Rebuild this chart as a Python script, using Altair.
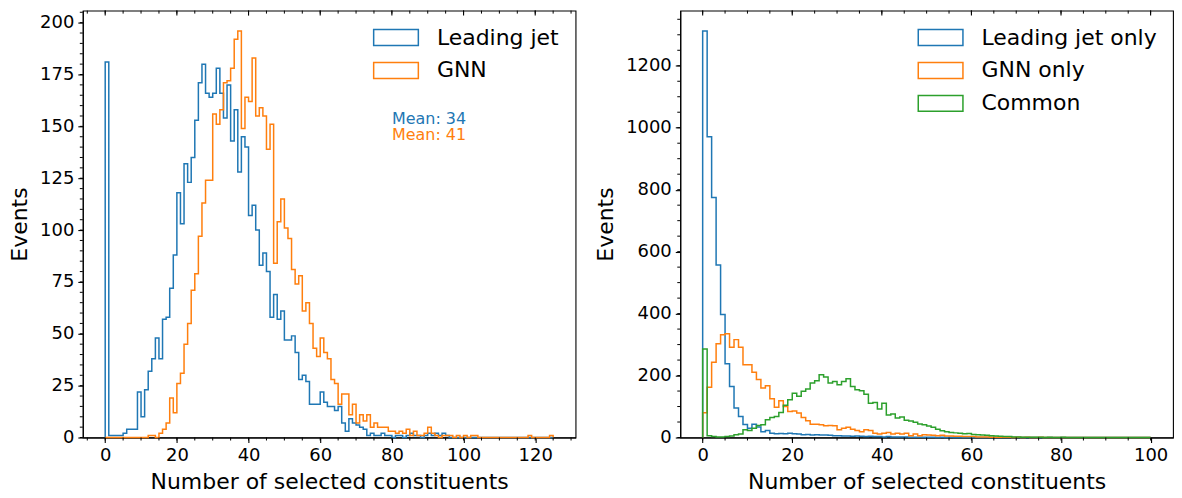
import altair as alt
import pandas as pd

# ---------------- data ----------------
left_series = ["Leading jet", "GNN"]
left_colors = ["#1f77b4", "#ff7f0e"]
left_bin_start = 0
right_series = ["Leading jet only", "GNN only", "Common"]
right_colors = ["#1f77b4", "#ff7f0e", "#2ca02c"]
right_bin_start = 0

# left panel, unit-width bins from 0 to 125
lead_counts = [181, 1, 1, 1, 1, 2, 4, 4, 4, 22,
               10, 23, 32, 38, 48, 38, 57, 58, 72, 88,
               118, 103, 132, 123, 135, 153, 171, 180, 166, 164,
               166, 178, 166, 154, 170, 143, 158, 128, 145, 140,
               107, 112, 100, 83, 89, 80, 58, 69, 57, 61,
               47, 47, 49, 41, 28, 30, 27, 16, 16, 16,
               22, 17, 15, 15, 13, 15, 7, 3, 9, 7,
               6, 5, 4, 1, 2, 1, 1, 2, 1, 1,
               0, 1, 1, 0, 1, 2, 1, 1, 0, 1,
               2, 1, 2, 1, 2, 1] + [0] * 29
gnn_counts = [0] * 12 + [1, 1, 0, 2, 4, 7, 19, 12,
              26, 31, 45, 55, 71, 79, 97, 113, 124, 124,
              156, 151, 158, 171, 172, 178, 192, 196, 149, 164,
              162, 183, 155, 159, 155, 139, 151, 84, 104, 115,
              101, 96, 81, 74, 78, 61, 65, 55, 43, 39,
              48, 41, 38, 28, 26, 16, 21, 21, 11, 16,
              7, 11, 8, 11, 5, 7, 5, 5, 5, 3,
              3, 2, 3, 2, 4, 1, 3, 1, 1, 2,
              5, 2, 1, 0, 1, 1, 1, 0, 1, 0,
              1, 0, 1, 1] + [0] * 14 + [1] + [0] * 5 + [1]

# right panel, unit-width bins from 0 to 100
lead_only = [1312, 971, 775, 557, 397, 238, 165, 95, 68, 42,
             30, 43, 34, 19, 23, 14, 12, 13, 12, 14,
             12, 11, 9, 10, 8, 9, 8, 8, 7, 6,
             6, 5, 5, 4, 5, 4, 3, 4, 3, 3,
             2, 3, 2, 2, 2, 2, 1, 1, 1, 1,
             1, 1, 0, 1, 0, 1] + [0] * 44
gnn_only = [80, 162, 243, 303, 332, 335, 291, 316, 291, 235,
            235, 211, 187, 160, 167, 125, 98, 119, 100, 84,
            86, 79, 65, 54, 43, 43, 41, 38, 39, 38,
            25, 30, 33, 27, 23, 19, 25, 23, 14, 11,
            14, 16, 11, 14, 11, 14, 6, 11, 6, 9,
            8, 7, 6, 7, 5, 5, 4, 4, 3, 3,
            3, 2, 2, 2, 1, 1, 1, 1, 1, 0,
            1, 0, 1, 0, 0, 1] + [0] * 24
common = [286, 6, 3, 2, 2, 3, 5, 9, 11, 25,
          23, 30, 39, 41, 57, 65, 68, 81, 104, 122,
          143, 133, 149, 157, 176, 183, 203, 195, 176, 181,
          170, 181, 190, 165, 154, 151, 140, 111, 113, 92,
          111, 73, 76, 63, 66, 56, 53, 49, 44, 41,
          37, 33, 27, 22, 19, 16, 15, 14, 12, 13,
          10, 9, 8, 7, 6, 5, 4, 3, 3, 2,
          2, 1, 1, 1, 1, 1, 0, 1, 0, 0,
          1] + [0] * 19

mean_labels = ["Mean: 34", "Mean: 41"]
x_title = "Number of selected constituents"
y_title = "Events"

left_x_domain = [-6.25, 131.25]
left_y_domain = [0, 205.8]
left_x_ticks = [0, 20, 40, 60, 80, 100, 120]
left_x_minor = list(range(-5, 131, 5))
left_y_ticks = [0, 25, 50, 75, 100, 125, 150, 175, 200]
left_y_minor = list(range(0, 206, 5))

right_x_domain = [-5, 105]
right_y_domain = [0, 1378]
right_x_ticks = [0, 20, 40, 60, 80, 100]
right_x_minor = list(range(0, 101, 5))
right_y_ticks = [0, 200, 400, 600, 800, 1000, 1200]
right_y_minor = list(range(0, 1376, 50))

W, H = 494, 428
FONT = "DejaVu Sans"
LEGEND_SHAPE = "M-2.8,-1H2.8V1H-2.8Z"


def step_frame(name, counts, start):
    xs, ys, ks = [start], [0], [0]
    k = 1
    for i, c in enumerate(counts):
        xs += [start + i, start + i + 1]
        ys += [c, c]
        ks += [k, k + 1]
        k += 2
    xs.append(start + len(counts))
    ys.append(0)
    ks.append(k)
    return pd.DataFrame({"x": xs, "y": ys, "k": ks, "series": name})


def panel(series, colors, count_lists, start, xdom, ydom, xt, xm, yt, ym, extra=None):
    xs = alt.Scale(domain=xdom, nice=False, zero=False)
    ys = alt.Scale(domain=ydom, nice=False, zero=False)
    cs = alt.Scale(domain=series, range=colors)
    layers = []
    for i, (name, counts) in enumerate(zip(series, count_lists)):
        df = step_frame(name, counts, start)
        legend = alt.Legend(
            title=None, orient="top-right", offset=16, padding=0,
            labelFontSize=22, labelFont=FONT, labelColor="black", labelLimit=400,
            symbolType=LEGEND_SHAPE, symbolSize=256, symbolStrokeWidth=1.5,
            symbolFillColor="white", rowPadding=11, labelOffset=30,
        )
        layers.append(
            alt.Chart(df).mark_line(strokeWidth=1.5).encode(
                x=alt.X("x:Q", scale=xs, title=x_title,
                        axis=alt.Axis(values=xt, titlePadding=7, format="d")),
                y=alt.Y("y:Q", scale=ys, title=y_title,
                        axis=alt.Axis(values=yt, titlePadding=8, format="d")),
                color=alt.Color("series:N", scale=cs, legend=legend),
                order=alt.Order("k:Q"),
            )
        )
    # minor ticks (bottom, left) and inward ticks on top
    bx = alt.Chart(pd.DataFrame({"v": xm})).mark_rule(color="black", strokeWidth=1).encode(
        x=alt.X("v:Q", scale=xs), y=alt.value(H), y2=alt.value(H + 3))
    ly = alt.Chart(pd.DataFrame({"v": ym})).mark_rule(color="black", strokeWidth=1).encode(
        y=alt.Y("v:Q", scale=ys), x=alt.value(0), x2=alt.value(-3))
    tminor = alt.Chart(pd.DataFrame({"v": xm})).mark_rule(color="black", strokeWidth=1).encode(
        x=alt.X("v:Q", scale=xs), y=alt.value(0), y2=alt.value(3))
    tmajor = alt.Chart(pd.DataFrame({"v": xt})).mark_rule(color="black", strokeWidth=1.1).encode(
        x=alt.X("v:Q", scale=xs), y=alt.value(0), y2=alt.value(5))
    layers += [bx, ly, tminor, tmajor]
    if extra:
        layers += extra
    return alt.layer(*layers).properties(width=W, height=H)


mean_texts = [
    alt.Chart(pd.DataFrame({"t": [mean_labels[0]]})).mark_text(
        align="left", baseline="middle", fontSize=16, font=FONT, color=left_colors[0]
    ).encode(text="t:N", x=alt.value(310), y=alt.value(109)),
    alt.Chart(pd.DataFrame({"t": [mean_labels[1]]})).mark_text(
        align="left", baseline="middle", fontSize=16, font=FONT, color=left_colors[1]
    ).encode(text="t:N", x=alt.value(310), y=alt.value(125)),
]

left = panel(left_series, left_colors, [lead_counts, gnn_counts], left_bin_start,
             left_x_domain, left_y_domain, left_x_ticks, left_x_minor,
             left_y_ticks, left_y_minor, extra=mean_texts)
right = panel(right_series, right_colors, [lead_only, gnn_only, common], right_bin_start,
              right_x_domain, right_y_domain, right_x_ticks, right_x_minor,
              right_y_ticks, right_y_minor)

chart = alt.hconcat(left, right, spacing=17).resolve_scale(
    color="independent"
).properties(padding=0).configure(font=FONT).configure_view(
    stroke="black", strokeWidth=1.1
).configure_axis(
    labelFont=FONT, labelFontSize=18, labelColor="black", labelPadding=4,
    titleFont=FONT, titleFontSize=22, titleColor="black", titleFontWeight="normal",
    tickColor="black", tickSize=5, tickWidth=1.1, domainColor="black", domainWidth=1.1,
    grid=False,
)

chart.save("out.html", embed_options={"renderer": "svg", "actions": False})
